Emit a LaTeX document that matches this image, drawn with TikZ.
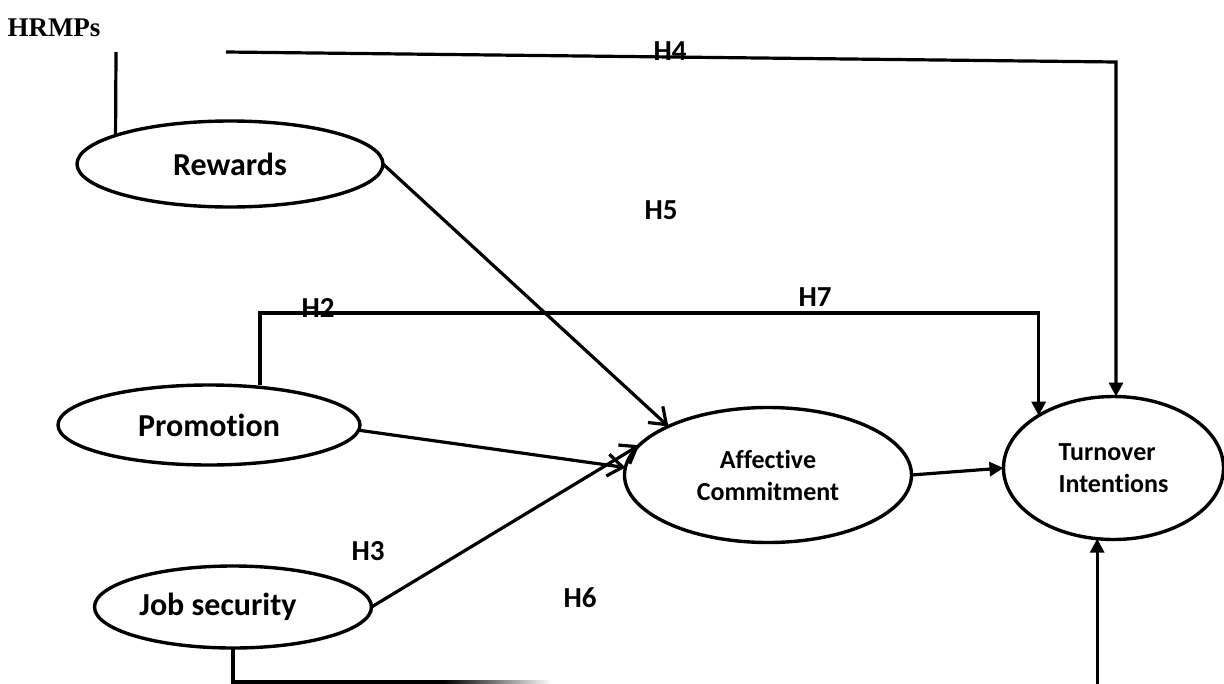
\documentclass[tikz,border=0pt]{standalone}
\usepackage{fontspec}
\setmainfont{Carlito}[Ligatures=NoCommon]
\newfontfamily\hrfont{Liberation Serif}
\usetikzlibrary{arrows.meta,shapes.geometric}
\begin{document}
\begin{tikzpicture}[x=1pt,y=-1pt,
  oval/.style={draw, ellipse, line width=3.4pt, inner sep=0pt, outer sep=0pt, font=\bfseries\fontsize{32}{36}\selectfont},
  small/.style={font=\bfseries\fontsize{26}{32}\selectfont},
  hlab/.style={font=\bfseries\fontsize{29}{34}\selectfont, inner sep=0pt},
  conn/.style={line width=3.2pt},
  openarr/.style={conn, -{Straight Barb[length=15pt,width=22pt]}},
  fillarr/.style={conn, -{Triangle[length=14pt,width=14pt]}},
]
\useasboundingbox (0,0) rectangle (1224,683);

% nodes
\node[font=\hrfont\bfseries\fontsize{27}{32}\selectfont, anchor=base, inner sep=0pt] (hrmps) at (54,36) {HRMPs};
\node[oval, minimum width=306pt, minimum height=86pt] (rew) at (230,164) {Rewards};
\node[oval, minimum width=302pt, minimum height=80pt] (pro) at (209,425) {Promotion};
\node[oval, minimum width=277pt, minimum height=82pt] (job) at (233,607) {Job security\hspace*{30pt}};
\node[oval, small, align=center, minimum width=287pt, minimum height=135pt] (ac) at (768,475) {Affective\\Commitment};
\node[oval, small, align=left, minimum width=220pt, minimum height=143pt] (ti) at (1113.5,468) {Turnover\\Intentions};

% helper coordinates
\coordinate (y62) at (0,62);
\coordinate (yb) at (0,682);
\coordinate (ybot) at (0,692);
\coordinate (hr1) at (116,52);
\coordinate (h4a) at (226,52);
\coordinate (h4b) at (ti.88 |- y62);
\coordinate (h2a) at (260,313);
\coordinate (h2b) at (ti.145 |- h2a);
\coordinate (jb) at (job.south |- yb);
\coordinate (jf) at (445,682);
\coordinate (bt) at (ti.-103 |- ybot);

% connectors
\draw[conn] (hr1) -- (rew.166);
\draw[fillarr] (h4a) -- (h4b) -- (ti.88);
\draw[openarr] (rew.east) -- (ac.154);
\draw[openarr] (pro.-2) -- (ac.177);
\draw[openarr] (job.east) -- (ac.167);
\draw[fillarr] (ac.east) -- (ti.west);
\draw[fillarr] (pro.north -| h2a) -- (h2a) -- (h2b) -- (ti.145);
\draw[conn] (job.south) -- (jb) -- (jf);
\shade[left color=black, right color=white] (444,680.4) rectangle (552,683.6);
\draw[fillarr] (bt) -- (ti.-103);

% labels
\node[hlab] (H4) at (670,51) {H4};
\node[hlab] (H5) at (661,210) {H5};
\node[hlab] (H2) at (318,308) {H2};
\node[hlab] (H7) at (815,297) {H7};
\node[hlab] (H3) at (368,551) {H3};
\node[hlab] (H6) at (580,598) {H6};
\end{tikzpicture}
\end{document}
